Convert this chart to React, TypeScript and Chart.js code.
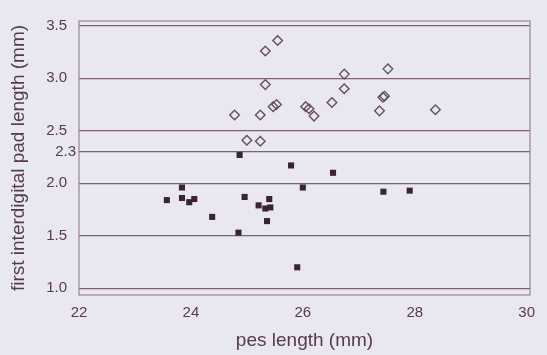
import React, { useEffect, useRef } from "react";
import { Chart, registerables } from "chart.js";

Chart.register(...registerables);

// open diamonds
const openPes = [24.78, 25.24, 25.33, 25.55, 25.33, 25.47, 25.53, 26.05, 26.11, 26.2, 26.52, 26.74, 26.74, 25.0, 25.24, 27.52, 27.43, 27.46, 27.37, 28.37];
const openPad = [2.65, 2.65, 3.26, 3.36, 2.94, 2.73, 2.75, 2.73, 2.71, 2.64, 2.77, 3.04, 2.9, 2.41, 2.4, 3.09, 2.82, 2.83, 2.69, 2.7];

// filled squares
const filledPes = [23.57, 23.84, 23.84, 23.97, 24.06, 24.38, 24.87, 24.96, 25.21, 25.33, 25.42, 25.4, 25.36, 24.85, 25.79, 26.0, 25.9, 26.54, 27.44, 27.91];
const filledPad = [1.84, 1.96, 1.86, 1.82, 1.85, 1.68, 2.27, 1.87, 1.79, 1.76, 1.77, 1.85, 1.64, 1.53, 2.17, 1.96, 1.2, 2.1, 1.92, 1.93];

const xTicks = [22, 24, 26, 28, 30];
const yTicks = [1.0, 1.5, 2.0, 2.3, 2.5, 3.0, 3.5];
const specialYTick = 2.3;

const xTitle = "pes length (mm)";
const yTitle = "first interdigital pad length (mm)";

const TEXT = "#553b4e";
const BG = "#e9e7ef";
const FONT = "'Liberation Sans', Arial, sans-serif";

export default function App() {
  const ref = useRef<HTMLCanvasElement>(null);

  useEffect(() => {
    if (!ref.current) return;

    const bgPlugin = {
      id: "bg",
      beforeDraw(chart: any) {
        const ctx = chart.ctx;
        ctx.save();
        ctx.fillStyle = BG;
        ctx.fillRect(0, 0, chart.width, chart.height);
        ctx.restore();
      },
      beforeDatasetsDraw(chart: any) {
        const { ctx, chartArea: a } = chart;
        ctx.save();
        ctx.strokeStyle = "#9a8494";
        ctx.lineWidth = 1.2;
        ctx.strokeRect(a.left, a.top, a.right - a.left, a.bottom - a.top);
        ctx.restore();
      },
      afterDraw(chart: any) {
        const ctx = chart.ctx;
        const y = chart.scales.y.getPixelForValue(specialYTick);
        ctx.save();
        ctx.fillStyle = TEXT;
        ctx.font = `15px ${FONT}`;
        ctx.textAlign = "right";
        ctx.textBaseline = "middle";
        ctx.fillText(specialYTick.toFixed(1), chart.chartArea.left - 3, y);
        ctx.restore();
      },
    };

    const chart = new Chart(ref.current, {
      type: "scatter",
      data: {
        datasets: [
          {
            data: openPes.map((x, i) => ({ x, y: openPad[i] })),
            pointStyle: "rectRot",
            pointRadius: 4.8,
            backgroundColor: "rgba(0,0,0,0)",
            borderColor: "#66505f",
            borderWidth: 1.4,
          },
          {
            data: filledPes.map((x, i) => ({ x, y: filledPad[i] })),
            pointStyle: "rect",
            pointRadius: 4.3,
            backgroundColor: "#3b2431",
            borderColor: "#3b2431",
            borderWidth: 0,
          },
        ],
      },
      options: {
        responsive: false,
        animation: false,
        events: [],
        layout: { padding: { top: 10, right: 17, left: 0, bottom: 0 } },
        plugins: {
          legend: { display: false },
          tooltip: { enabled: false },
        },
        scales: {
          x: {
            type: "linear",
            min: 22,
            max: 30.06,
            afterBuildTicks: (s: any) => {
              s.ticks = xTicks.map((v) => ({ value: v }));
            },
            afterFit: (s: any) => {
              s.height = 60;
            },
            grid: { display: false, drawTicks: false },
            border: { display: false },
            ticks: {
              padding: 9,
              color: TEXT,
              font: { size: 15, family: FONT },
              autoSkip: false,
              maxRotation: 0,
              callback: (v: any) => String(v),
            },
            title: {
              display: true,
              text: xTitle,
              color: TEXT,
              font: { size: 19, family: FONT },
              padding: { top: 3, bottom: 3 },
            },
          },
          y: {
            type: "linear",
            min: 0.936,
            max: 3.546,
            afterBuildTicks: (s: any) => {
              s.ticks = yTicks.map((v) => ({ value: v }));
            },
            afterFit: (s: any) => {
              s.width = 79;
            },
            grid: { color: "#7e6272", lineWidth: 1.3, drawTicks: false },
            border: { display: false },
            ticks: {
              padding: 12,
              color: TEXT,
              font: { size: 15, family: FONT },
              autoSkip: false,
              callback: (v: any) => (Math.abs(v - specialYTick) < 1e-9 ? "" : Number(v).toFixed(1)),
            },
            title: {
              display: true,
              text: yTitle,
              color: TEXT,
              font: { size: 19, family: FONT },
              padding: { top: 7, bottom: 7 },
            },
          },
        },
      },
      plugins: [bgPlugin],
    });

    return () => chart.destroy();
  }, []);

  return (
    <div style={{ position: "fixed", left: 0, top: 0, width: 547, height: 355 }}>
      <canvas ref={ref} width={547} height={355} style={{ display: "block" }} />
    </div>
  );
}
